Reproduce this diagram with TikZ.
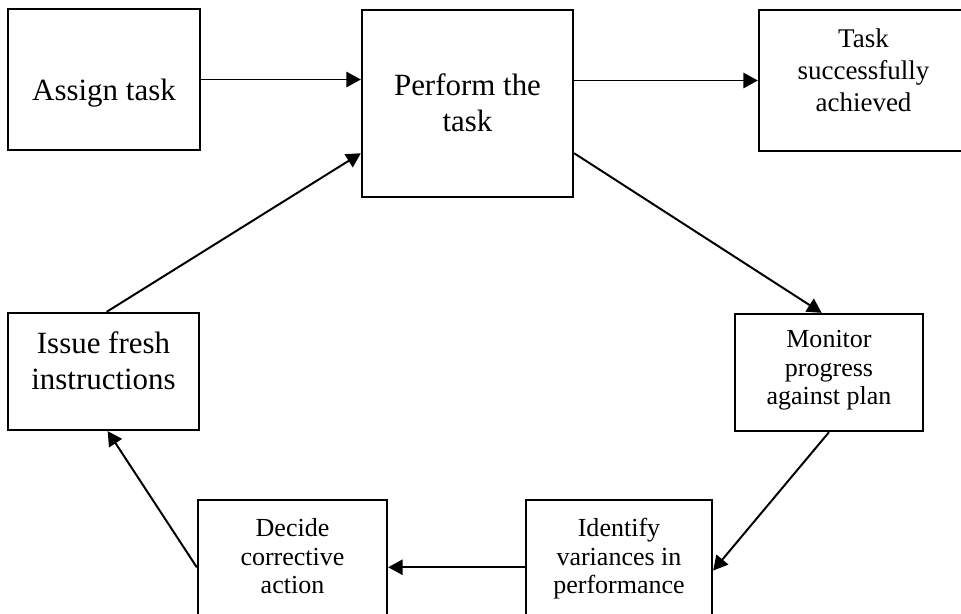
\documentclass[tikz,border=0pt]{standalone}
\usepackage{fontspec}
\setmainfont{Liberation Serif}
\usepackage{tikz}
\usetikzlibrary{arrows.meta}

% struts that move the text up or down inside a box
\newcommand\topfix[1]{\rule{0pt}{#1}}
\newcommand\botfix[1]{\rule[-#1]{0pt}{#1}}

\begin{document}
\begin{tikzpicture}[x=0.025cm, y=-0.025cm,
    box/.style={draw, line width=1.6pt, inner sep=2pt, align=center},
    big/.style={font=\fontsize{22}{26.3}\selectfont},
    mid/.style={font=\fontsize{19.2}{23.1}\selectfont},
    small/.style={font=\fontsize{18.5}{20.3}\selectfont},
    flow/.style={line width=1.4pt, -{Triangle[length=0.36cm, width=0.38cm]}}]
  \useasboundingbox (0,0) rectangle (961,613);
  \clip (0,0) rectangle (961,613);

  % top row
  \node[box, big, minimum width=4.8cm, minimum height=3.525cm] (assign) at (104,79.5)
    {\topfix{1.225cm}\botfix{0.2cm}Assign task};
  \node[box, big, minimum width=5.275cm, minimum height=4.675cm] (perform) at (467.5,103.5)
    {\topfix{0.575cm}Perform the\\task\botfix{0.075cm}};
  \node[box, mid, minimum width=5.225cm, minimum height=3.525cm] (task) at (863.5,80.5)
    {\topfix{0.475cm}Task\\successfully\\achieved\botfix{0.525cm}};

  % the loop
  \node[box, small, minimum width=4.7cm, minimum height=2.925cm] (monitor) at (829,372.5)
    {\topfix{0.45cm}Monitor\\progress\\against plan\botfix{0.275cm}};
  \node[box, small, minimum width=4.65cm, minimum height=2.95cm] (identify) at (619,559)
    {\topfix{0.45cm}Identify\\variances in\\performance\botfix{0.15cm}};
  \node[box, small, minimum width=4.725cm, minimum height=2.95cm] (decide) at (292.5,559)
    {\topfix{0.45cm}Decide\\corrective\\action\botfix{0.15cm}};
  \node[box, big, minimum width=4.775cm, minimum height=2.925cm] (issue) at (103.5,371.5)
    {\topfix{0.55cm}Issue fresh\\instructions\botfix{0.55cm}};

  \draw[flow] (assign.east) -- (assign.east -| perform.west);
  \draw[flow] (task.west -| perform.east) -- (task.west);
  \draw[flow] (perform.335) -- (monitor.97);
  \draw[flow] (monitor.south) -- (identify.-7);
  \draw[flow] (identify.185) -- (identify.185 -| decide.east);
  \draw[flow] (decide.185) -- (issue.274);
  \draw[flow] (issue.87) -- (perform.205);
\end{tikzpicture}
\end{document}
